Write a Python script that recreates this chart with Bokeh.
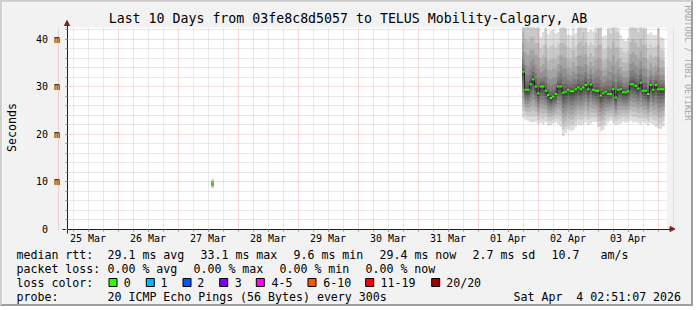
import math
from datetime import datetime, timedelta
from bokeh.plotting import figure
from bokeh.models import (Range1d, FixedTicker, DatetimeTickFormatter, Label, Grid,
                          BoxAnnotation, Arrow, NormalHead, LinearAxis, DatetimeAxis)
from bokeh.embed import file_html
from bokeh.resources import INLINE

# ---------------- data ----------------
title_text = "Last 10 Days from 03fe8c8d5057 to TELUS Mobility-Calgary, AB"
y_axis_title = "Seconds"
watermark = "RRDTOOL / TOBI OETIKER"

view_start = datetime(2026, 3, 25, 3, 36)
view_hours = 240
step_hours = 1.0

smoke_start = datetime(2026, 4, 1, 17, 36)
median_ms = [33.1, 29.3, 29.3, 30.5, 31.5, 30.0, 28.6, 30.0, 30.0, 29.1,
             28.2, 27.6, 27.9, 28.4, 30.0, 30.0, 28.7, 28.9, 29.3, 29.0,
             29.0, 29.4, 29.8, 29.4, 29.8, 30.3, 29.4, 30.4, 29.3, 29.1,
             29.1, 28.1, 28.6, 28.9, 28.4, 28.4, 29.4, 27.7, 29.3, 29.4,
             28.8, 28.8, 29.0, 30.5, 30.5, 30.1, 29.6, 30.8, 29.1, 29.1,
             28.4, 30.3, 29.3, 30.3, 29.4, 29.4, 29.4]
ping_lo_ms = [23.5, 23.0, 22.8, 22.5, 22.4, 22.6, 22.0, 22.3, 22.0, 22.5,
              21.8, 21.9, 22.2, 22.5, 22.0, 21.5, 19.6, 20.2, 21.0, 20.6,
              20.8, 21.5, 22.0, 21.8, 22.0, 22.5, 21.9, 22.2, 22.6, 22.4,
              21.5, 20.6, 20.8, 21.8, 22.4, 22.8, 22.3, 21.9, 22.0, 22.2,
              22.6, 22.3, 22.5, 22.8, 22.4, 22.6, 22.3, 22.0, 22.5, 22.2,
              21.8, 22.3, 22.0, 21.5, 21.2, 21.0, 21.6]
ping_hi_ms = [48.0, 48.0, 47.0, 48.0, 47.0, 46.0, 47.0, 40.5, 41.5, 46.0,
              41.0, 41.8, 42.0, 41.2, 41.5, 46.0, 47.0, 46.0, 41.0, 40.8,
              44.0, 41.2, 46.0, 47.0, 45.0, 46.0, 41.5, 42.0, 41.6, 45.0,
              46.0, 47.0, 40.6, 40.8, 46.0, 45.0, 47.0, 46.0, 45.0, 40.8,
              40.0, 39.6, 40.2, 46.0, 47.0, 46.0, 45.0, 47.0, 46.0, 46.0,
              41.0, 41.4, 40.9, 40.8, 46.0, 40.4, 40.2]

blip_start = datetime(2026, 3, 27, 13, 24)
blip_median_ms = [9.6]
blip_lo_ms = [8.6]
blip_hi_ms = [10.6]

y_ticks = [0, 10, 20, 30, 40]
y_tick_labels = ["0\u00a0\u00a0", "10 m", "20 m", "30 m", "40 m"]
y_minor_step = 2

rtt_items = ["median rtt:", "29.1 ms avg", "33.1 ms max", "9.6 ms min",
             "29.4 ms now", "2.7 ms sd", "10.7", "am/s"]
loss_items = ["packet loss:", "0.00 % avg", "0.00 % max", "0.00 % min", "0.00 % now"]
loss_labels = ["0", "1", "2", "3", "4-5", "6-10", "11-19", "20/20"]
loss_colors = ["#26ff00", "#00b8ff", "#0059ff", "#7e00ff", "#ff00ff",
               "#ff5500", "#ff0000", "#a10000"]
probe_items = ["probe:", "20 ICMP Echo Pings (56 Bytes) every 300s",
               "Sat Apr\u00a0 4 02:51:07 2026"]

# ---------------- layout (page pixels) ----------------
W, H, B = 697, 310, 2
FRAME_L, FRAME_R, FRAME_T, FRAME_B = 66.5, 666.5, 27, 228.5
PX_PER_H = (FRAME_R - FRAME_L) / view_hours
PX_PER_MS = 4.75
FONT = "DejaVu Sans Mono"

EPOCH = datetime(1970, 1, 1)
def ms(dt):
    return (dt - EPOCH).total_seconds() * 1000.0

X0 = ms(view_start)
def px_x(px):
    return X0 + (px - FRAME_L) / PX_PER_H * 3600e3
def py_y(py):
    return (FRAME_B - py) / PX_PER_MS

X_LEFT, X_RIGHT = px_x(FRAME_L), px_x(FRAME_R)
Y_TOP = py_y(FRAME_T)

# the frame covers the whole canvas; the plot area is a region inside it
p = figure(width=W - 2 * B, height=H - 2 * B,
           x_range=Range1d(px_x(B), px_x(W - B)),
           y_range=Range1d(py_y(H - B), py_y(B)),
           min_border=0, min_border_left=0, min_border_right=0,
           min_border_top=0, min_border_bottom=0,
           x_axis_location=None, y_axis_location=None,
           toolbar_location=None, output_backend="svg", title=None)
p.background_fill_color = "#f2f2f2"
p.border_fill_color = "#f2f2f2"
p.outline_line_color = None
p.styles = {"border-style": "solid", "border-width": "%dpx" % B,
            "border-color": "#cfcfcf #9e9e9e #9e9e9e #cfcfcf"}
for g in p.grid:
    g.visible = False

# plot canvas
p.quad(left=[X_LEFT], right=[X_RIGHT], bottom=[0], top=[Y_TOP],
       fill_color="#ffffff", line_color=None, level="image")

# ---------------- smoke ----------------
def smoke(start, med, lo, hi):
    n = len(med)
    xs = [ms(start + timedelta(hours=step_hours * i)) for i in range(n + 1)]
    for k in range(1, 11):
        f = (11 - k) / 10
        g_lo, g_hi = f ** 1.5, f ** 2.5
        low = [m - (m - l) * g_lo for m, l in zip(med, lo)]
        up = [min(m + (h - m) * g_hi, Y_TOP) for m, h in zip(med, hi)]
        low.append(low[-1]); up.append(up[-1])
        grey = int(190 / 10 * (10 - k)) + 50
        col = "#%02x%02x%02x" % (grey, grey, grey)
        p.varea_step(x=xs, y1=low, y2=up, step_mode="after", fill_color=col, level="image")
    p.step(x=xs, y=list(med) + [med[-1]], mode="after", line_color="#202020", line_width=1)
    centers = [ms(start + timedelta(hours=step_hours * (i + 0.5))) for i in range(n)]
    p.rect(x=centers, y=med, width=step_hours * 3600e3, height=2, height_units="screen",
           fill_color=loss_colors[0], line_color=None)

smoke(smoke_start, median_ms, ping_lo_ms, ping_hi_ms)
smoke(blip_start, blip_median_ms, blip_lo_ms, blip_hi_ms)

# ---------------- grid ----------------
base = datetime(2026, 3, 25)
midnights = [ms(base + timedelta(days=d)) for d in range(11)]
noons = [ms(base + timedelta(days=d, hours=12)) for d in range(10)]
six_h = [ms(base + timedelta(hours=6 * j)) for j in range(42) if j % 4 != 0]
all_six = [ms(base + timedelta(hours=6 * j)) for j in range(42)
           if X_LEFT <= ms(base + timedelta(hours=6 * j)) <= X_RIGHT]
y_minor = [v for v in range(0, 43, y_minor_step) if v % 10]
y_major_grid = [v for v in y_ticks if v > 0]

MAJ_COL, MAJ_ALPHA = "#de4f4f", 0.42
MIN_COL, MIN_ALPHA = "#8f8f8f", 0.38

if "cross_bounds" in Grid.properties():
    xg = Grid(dimension=0, ticker=FixedTicker(ticks=midnights, minor_ticks=six_h),
              bounds=(X_LEFT, X_RIGHT), cross_bounds=(0, Y_TOP))
    yg = Grid(dimension=1, ticker=FixedTicker(ticks=y_major_grid, minor_ticks=y_minor),
              bounds=(0, Y_TOP), cross_bounds=(X_LEFT, X_RIGHT))
    for g in (xg, yg):
        g.grid_line_color = MAJ_COL
        g.grid_line_alpha = MAJ_ALPHA
        g.grid_line_dash = "1 1"
        g.minor_grid_line_color = MIN_COL
        g.minor_grid_line_alpha = MIN_ALPHA
        g.minor_grid_line_dash = "1 1"
        p.add_layout(g)
else:
    for ticks, col, al in ((six_h, MIN_COL, MIN_ALPHA), (midnights, MAJ_COL, MAJ_ALPHA)):
        t = [v for v in ticks if X_LEFT <= v <= X_RIGHT]
        p.segment(x0=t, x1=t, y0=[0] * len(t), y1=[Y_TOP] * len(t), line_color=col,
                  line_alpha=al, line_dash="1 1", level="underlay")
    for ticks, col, al in ((y_minor, MIN_COL, MIN_ALPHA), (y_major_grid, MAJ_COL, MAJ_ALPHA)):
        p.segment(x0=[X_LEFT] * len(ticks), x1=[X_RIGHT] * len(ticks), y0=ticks, y1=ticks,
                  line_color=col, line_alpha=al, line_dash="1 1", level="underlay")

# ---------------- axes ----------------
AXIS_COL = "#1f1f1f"
ARROW_COL = "#801f1f"
fmt = "%d %b"
xax = DatetimeAxis(fixed_location=0,
                   bounds=(px_x(FRAME_L - 5), px_x(FRAME_R + 5)),
                   ticker=FixedTicker(ticks=noons, minor_ticks=all_six),
                   formatter=DatetimeTickFormatter(microseconds=fmt, milliseconds=fmt,
                                                   seconds=fmt, minsec=fmt, minutes=fmt,
                                                   hourmin=fmt, hours=fmt, days=fmt,
                                                   months=fmt, years=fmt))
yax = LinearAxis(fixed_location=X_LEFT,
                 bounds=(py_y(FRAME_B + 4), py_y(24)),
                 ticker=FixedTicker(ticks=y_ticks, minor_ticks=list(range(0, 43, y_minor_step))),
                 major_label_overrides=dict(zip(y_ticks, y_tick_labels)))
for ax in (xax, yax):
    ax.axis_line_color = AXIS_COL
    ax.axis_line_width = 1
    ax.major_tick_in = 0
    ax.minor_tick_in = 0
    ax.major_tick_out = 2
    ax.minor_tick_out = 2
    ax.major_tick_line_color = MIN_COL
    ax.minor_tick_line_color = MIN_COL
    ax.major_label_text_font = FONT
    ax.major_label_text_font_size = "10px"
    ax.major_label_text_color = "#000000"
xax.major_label_standoff = 2
yax.major_label_standoff = 5
yax.major_tick_line_color = MAJ_COL
p.add_layout(xax, "below")
p.add_layout(yax, "left")

# arrowheads at the axis ends
p.add_layout(Arrow(x_start=X_LEFT, y_start=py_y(26), x_end=X_LEFT, y_end=py_y(20),
                   line_color=None,
                   end=NormalHead(size=5, fill_color=ARROW_COL, line_color=ARROW_COL)))
p.add_layout(Arrow(x_start=px_x(FRAME_R + 2), y_start=0, x_end=px_x(FRAME_R + 8), y_end=0,
                   line_color=None,
                   end=NormalHead(size=5, fill_color=ARROW_COL, line_color=ARROW_COL)))

# ---------------- texts ----------------
def label(px, py, text, size="11.6px", align="left", angle=0.0, color="#000000"):
    p.add_layout(Label(x=px_x(px), y=py_y(py), text=text, text_font=FONT,
                       text_font_size=size, text_align=align, text_baseline="middle",
                       angle=angle, text_color=color))

label(347.5, 18, title_text, size="13.25px", align="center")
label(11, 127, y_axis_title, align="center", angle=math.pi / 2)
label(687, 5, watermark, size="8.7px", angle=-math.pi / 2, color="#a8a8a8")

row_y = [254, 268, 282, 296]
rtt_x = [16, 107, 200, 293, 379, 472, 551, 600]
loss_x = [16, 107, 193, 279, 365]
box_x = [108.5, 145.8, 182.5, 219.2, 255.8, 307.5, 365.2, 431.2]
loss_label_x = [123.3, 160, 196.7, 234.3, 271, 322.7, 380, 445.7]
probe_x = [16, 107, 513]

for x, t in zip(rtt_x, rtt_items):
    label(x, row_y[0], t)
for x, t in zip(loss_x, loss_items):
    label(x, row_y[1], t)
label(16, row_y[2], "loss color:")
for bx, lx, t, c in zip(box_x, loss_label_x, loss_labels, loss_colors):
    p.add_layout(BoxAnnotation(left=px_x(bx), right=px_x(bx + 8),
                               top=py_y(row_y[2] - 4), bottom=py_y(row_y[2] + 4),
                               fill_color=c, fill_alpha=1.0,
                               line_color="#000000", line_alpha=1.0, line_width=1))
    label(lx, row_y[2], t)
for x, t in zip(probe_x, probe_items):
    label(x, row_y[3], t)

open("out.html", "w").write(file_html(p, INLINE))
